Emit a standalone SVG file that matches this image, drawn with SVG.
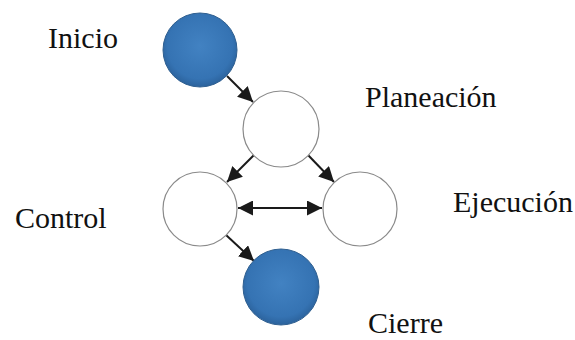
<svg xmlns="http://www.w3.org/2000/svg" width="575" height="340" viewBox="0 0 575 340">
<style>
.lbl{font-family:'Liberation Serif','Times New Roman',serif;font-size:30px;fill:#111}
.blue{fill:url(#bg);stroke:#2f5f90;stroke-width:1}
.white{fill:#fff;stroke:#8a8a8a;stroke-width:1.2}
.edge{stroke:#1a1a1a;stroke-width:2;fill:none}
</style>
<defs>
<radialGradient id="bg" cx="50%" cy="45%" r="55%">
<stop offset="0" stop-color="#4282c2"/>
<stop offset="0.8" stop-color="#3573b3"/>
<stop offset="1" stop-color="#2b629c"/>
</radialGradient>
<marker id="ah" viewBox="0 0 10 10" refX="10" refY="5" markerWidth="7.5" markerHeight="7.5" orient="auto-start-reverse" markerUnits="strokeWidth">
<path d="M0,0 L10,5 L0,10 z" fill="#1a1a1a"/>
</marker>
</defs>
<rect width="575" height="340" fill="#fff"/>
<g id="connectors">
<line class="edge" x1="227" y1="76" x2="253" y2="102" marker-end="url(#ah)"/>
<line class="edge" x1="254" y1="155" x2="227" y2="182" marker-end="url(#ah)"/>
<line class="edge" x1="308" y1="155" x2="334" y2="182" marker-end="url(#ah)"/>
<line class="edge" x1="238" y1="208" x2="322" y2="208" marker-start="url(#ah)" marker-end="url(#ah)"/>
<line class="edge" x1="226" y1="235" x2="254" y2="261" marker-end="url(#ah)"/>
</g>
<g id="inicio">
<circle class="blue" cx="200" cy="50" r="37"/>
<text class="lbl" x="48" y="48">Inicio</text>
</g>
<g id="planeacion">
<circle class="white" cx="281" cy="129" r="38"/>
<text class="lbl" x="365" y="107">Planeación</text>
</g>
<g id="control">
<circle class="white" cx="200" cy="209" r="37"/>
<text class="lbl" x="15" y="228">Control</text>
</g>
<g id="ejecucion">
<circle class="white" cx="360" cy="209" r="37"/>
<text class="lbl" x="453" y="212">Ejecución</text>
</g>
<g id="cierre">
<circle class="blue" cx="281" cy="287" r="38"/>
<text class="lbl" x="368" y="333">Cierre</text>
</g>
</svg>
